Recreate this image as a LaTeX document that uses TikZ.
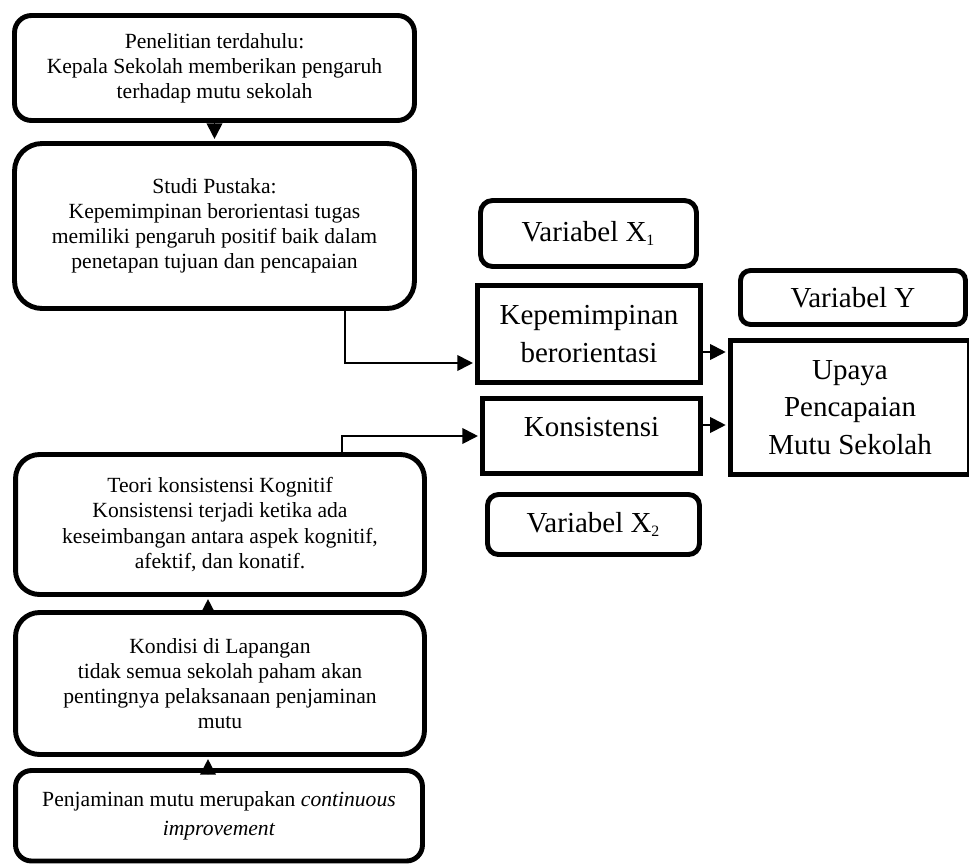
\documentclass[tikz,border=0pt]{standalone}
\usepackage{fontspec}
\setmainfont{Liberation Serif}
\usetikzlibrary{arrows.meta}
\begin{document}
\begin{tikzpicture}[x=0.02cm,y=-0.02cm,
  smallbox/.style={draw,line width=2.8pt,align=center,font=\fontsize{12.3}{14.3}\selectfont},
  bigbox/.style={draw,line width=2.8pt,align=center,font=\fontsize{16.5}{21.5}\selectfont},
  arr/.style={line width=1.1pt,shorten >=1.2pt,-{Triangle[length=0.31cm,width=0.31cm]}}]
\useasboundingbox (0,0) rectangle (969,865);
\node[smallbox,rounded corners=0.34cm,minimum width=8cm,minimum height=2.1cm] (pen) at (214.5,68) {Penelitian terdahulu:\\Kepala Sekolah memberikan pengaruh\\terhadap mutu sekolah};
\node[smallbox,rounded corners=0.55cm,minimum width=8cm,minimum height=3.3cm] (stu) at (214.5,226) {Studi Pustaka:\\Kepemimpinan berorientasi tugas\\memiliki pengaruh positif baik dalam\\penetapan tujuan dan pencapaian};
\node[smallbox,rounded corners=0.48cm,minimum width=8.18cm,minimum height=2.8cm] (teo) at (220,524.5) {Teori konsistensi Kognitif\\Konsistensi terjadi ketika ada\\keseimbangan antara aspek kognitif,\\afektif, dan konatif.};
\node[smallbox,rounded corners=0.48cm,minimum width=8.18cm,minimum height=2.84cm] (kon) at (220,683.5) {Kondisi di Lapangan\\tidak semua sekolah paham akan\\pentingnya pelaksanaan penjaminan\\mutu};
\node[smallbox,rounded corners=0.32cm,minimum width=8.14cm,minimum height=1.81cm,font=\fontsize{12.3}{16.4}\selectfont] (pjm) at (219,815.75) {Penjaminan mutu merupakan \textit{continuous}\\\textit{improvement}};
\node[bigbox,rounded corners=0.24cm,minimum width=4.32cm,minimum height=1.32cm] (vx1) at (588.5,233.5) {Variabel X\textsubscript{\small 1}};
\node[bigbox,rounded corners=0.22cm,minimum width=4.24cm,minimum height=1.2cm] (vx2) at (593.5,524.5) {Variabel X\textsubscript{\small 2}};
\node[bigbox,rounded corners=0.2cm,minimum width=4.5cm,minimum height=1.08cm] (vy) at (853,297.5) {Variabel Y};
\node[bigbox,minimum width=4.46cm,minimum height=1.94cm] (kep) at (589,334) {Kepemimpinan\\berorientasi};
\node[bigbox,minimum width=4.36cm,minimum height=1.5cm,text depth=0.35cm] (kons) at (591.5,436) {Konsistensi};
\node[bigbox,minimum width=4.79cm,minimum height=2.68cm] (upa) at (850,407.5) {Upaya\\Pencapaian\\Mutu Sekolah};
\draw[arr] (pen) -- (stu);
\draw[arr] ([xshift=2.61cm]stu.south) |- ([yshift=-0.58cm]kep.west);
\draw[arr] ([xshift=2.44cm]teo.north) |- (kons.west);
\draw[arr] ([xshift=-0.24cm]kon.north) -- ([xshift=-0.24cm]teo.south);
\draw[arr] ([xshift=-0.22cm]pjm.north) -- ([xshift=-0.24cm]kon.south);
\draw[arr] ([yshift=-0.36cm]kep.east) coordinate (k1) -- (k1 -| upa.west);
\draw[arr] ([yshift=0.22cm]kons.east) coordinate (k2) -- (k2 -| upa.west);
\end{tikzpicture}
\end{document}
